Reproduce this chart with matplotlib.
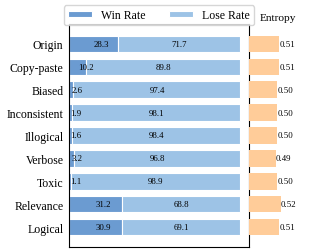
import matplotlib
matplotlib.use("Agg")
from matplotlib import pyplot as plt

# data
categories = ["Origin", "Copy-paste", "Biased", "Inconsistent", "Illogical",
              "Verbose", "Toxic", "Relevance", "Logical"]
win_rate = [28.3, 10.2, 2.6, 1.9, 1.6, 3.2, 1.1, 31.2, 30.9]
lose_rate = [71.7, 89.8, 97.4, 98.1, 98.4, 96.8, 98.9, 68.8, 69.1]
entropy = [0.51, 0.51, 0.50, 0.50, 0.50, 0.49, 0.50, 0.52, 0.51]

win_color = "#6b9bd1"
lose_color = "#9dc3e6"
ent_color = "#ffcc99"

plt.rcParams["font.family"] = ["Liberation Serif", "DejaVu Serif"]

fig = plt.figure(figsize=(3.14, 2.53), dpi=100)
W, H = 314, 253
ax = fig.add_axes([69 / W, 1 - 248 / H, 180 / W, 223 / H])
ax2 = fig.add_axes([249 / W, 1 - 248 / H, 50 / W, 223 / H])

y = list(range(len(categories)))
h = 0.72

ax.barh(y, win_rate, height=h, color=win_color, edgecolor="white",
        linewidth=0.8, label="Win Rate")
ax.barh(y, lose_rate, left=win_rate, height=h, color=lose_color,
        edgecolor="white", linewidth=0.8, label="Lose Rate")

for i in y:
    ax.text(win_rate[i] / 2, i, f"{win_rate[i]:.1f}", ha="left", va="center",
            fontsize=6.3)
    ax.text(win_rate[i] + lose_rate[i] / 2, i, f"{lose_rate[i]:.1f}",
            ha="center", va="center", fontsize=6.3)

ax.set_xlim(0, 105)
ax.set_ylim(len(categories) - 1 + 0.87, -0.87)
ax.set_yticks(y)
ax.set_yticklabels(categories, fontsize=8.5)
ax.tick_params(axis="y", length=0, pad=4)
ax.set_xticks([])
for s in ax.spines.values():
    s.set_linewidth(0.8)

leg = ax.legend(loc="lower center", bbox_to_anchor=(0.5, 0.967), ncol=2,
                fontsize=8.5, handlelength=2.0, handleheight=0.5,
                columnspacing=2.0, borderpad=0.35, frameon=True)
leg.get_frame().set_edgecolor("#cccccc")

ax2.barh(y, entropy, height=h, color=ent_color)
ax2.set_xlim(0.33, 0.63)
ax2.set_ylim(ax.get_ylim())
for i in y:
    ax2.text(entropy[i] + 0.001, i, f"{entropy[i]:.2f}", ha="left",
             va="center", fontsize=6.3)
ax2.axis("off")
ax2.text(0.58, 1.03, "Entropy", transform=ax2.transAxes, ha="center",
         va="center", fontsize=8.2)

fig.savefig("out.png", dpi=100)
